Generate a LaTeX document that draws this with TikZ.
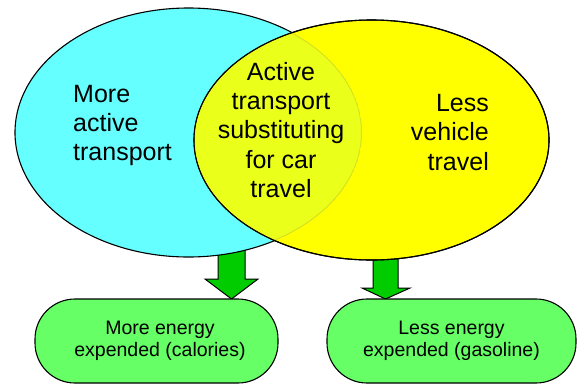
\documentclass[tikz,border=0pt]{standalone}
\usepackage{fontspec}
\setmainfont{Liberation Sans}
\usetikzlibrary{shapes.geometric}
\definecolor{cyanfill}{RGB}{102,255,255}
\definecolor{yellowfill}{RGB}{255,255,0}
\definecolor{overlapfill}{RGB}{234,255,26}
\definecolor{faintedge}{RGB}{215,225,30}
\definecolor{boxgreen}{RGB}{102,255,102}
\definecolor{arrowgreen}{RGB}{0,204,0}
\tikzset{
  venn/.style={ellipse, draw=black, line width=1.1pt, inner sep=0pt},
  bigtext/.style={inner sep=0pt, font=\fontsize{25}{29.3}\selectfont},
  smalltext/.style={inner sep=0pt, font=\fontsize{19.5}{22}\selectfont, align=center},
  pill/.style={draw=black, line width=1.1pt, fill=boxgreen, rounded corners=40pt},
  fatarrow/.style={draw=black, line width=1pt, fill=arrowgreen}
}
\begin{document}
\begin{tikzpicture}[x=1pt,y=-1pt]
\useasboundingbox (0,0) rectangle (577,386);
% arrows (behind ellipses)
\coordinate (la) at (231.5,299);
\coordinate (ra) at (385.5,299);
\draw[fatarrow] (218,238) -- (245,238) -- (245,279) -- (258,279) -- (la) -- (205,279) -- (218,279) -- cycle;
\draw[fatarrow] (373,250) -- (398,250) -- (398,288) -- (410,288) -- (ra) -- (362,288) -- (373,288) -- cycle;
% ellipses
\node[venn, fill=cyanfill, minimum width=347pt, minimum height=249pt] (cyanE) at (188.5,132.5) {};
\node[venn, fill=yellowfill, minimum width=355pt, minimum height=240pt] (yellowE) at (371.5,140) {};
\begin{scope}
  \clip (188.5,132.5) ellipse [x radius=173.5pt, y radius=124.5pt];
  \clip (371.5,140) ellipse [x radius=177pt, y radius=119.5pt];
  \fill[overlapfill] (371.5,140) ellipse [x radius=177.5pt, y radius=120pt];
  \draw[faintedge, line width=1pt] (188.5,132.5) ellipse [x radius=173pt, y radius=124pt];
\end{scope}
\draw[black, line width=1.1pt] (371.5,140) ellipse [x radius=177.5pt, y radius=120pt];
% texts
\node[bigtext, align=left, anchor=west] (lefttext) at (73,125.5) {More\\active\\transport};
\node[bigtext, align=center] (midtext) at (281,130) {Active\\transport\\substituting\\for car\\travel};
\node[bigtext, align=right, anchor=east] (righttext) at (489,132.5) {Less\\vehicle\\travel};
% boxes
\draw[pill] (35,299) rectangle (278,383);
\node[smalltext] (leftbox) at (160,341) {More energy\\expended (calories)};
\draw[pill] (327,299) rectangle (576,383);
\node[smalltext] (rightbox) at (451.5,341) {Less energy\\expended (gasoline)};
\end{tikzpicture}
\end{document}
